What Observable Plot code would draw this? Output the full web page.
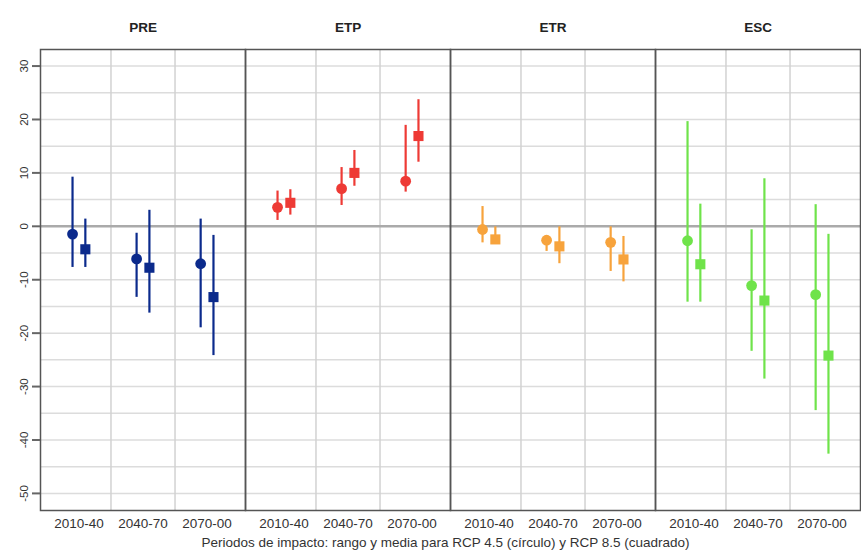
<!DOCTYPE html>
<html>
<head>
<meta charset="utf-8">
<script src="https://cdn.jsdelivr.net/npm/d3@7"></script>
<script src="https://cdn.jsdelivr.net/npm/@observablehq/plot@0.6"></script>
<style>
  html, body { margin: 0; padding: 0; background: #fff; overflow: hidden; }
  #chart svg { display: block; }
  #caption { font-family: "Liberation Sans", Arial, sans-serif; font-size: 13.5px; line-height: 16px; color: #333; text-align: center; padding-left: 30px; white-space: nowrap; }
</style>
</head>
<body>
<div id="chart"></div>
<div id="caption">Periodos de impacto: rango y media para RCP 4.5 (círculo) y RCP 8.5 (cuadrado)</div>
<script>
const panels = ["PRE", "ETP", "ETR", "ESC"];
const periods = ["2010-40", "2040-70", "2070-00"];
const panelColors = ["#0B2A8C", "#EE3A35", "#F7A33C", "#6FE34A"];
const yTicks = [-50, -40, -30, -20, -10, 0, 10, 20, 30];
const gridVals = [-50, -45, -40, -35, -30, -25, -20, -15, -10, -5, 5, 10, 15, 20, 25, 30];

// order: PRE(3 periods), ETP(3), ETR(3), ESC(3)
const mean45 = [-1.45, -6.1, -7.0, 3.55, 7.05, 8.45, -0.6, -2.6, -3.0, -2.7, -11.1, -12.8];
const low45  = [-7.7, -13.3, -19.0, 1.1, 3.9, 6.4, -3.1, -4.7, -8.45, -14.2, -23.4, -34.5];
const high45 = [9.2, -1.3, 1.35, 6.6, 11.0, 18.9, 3.7, -1.8, -0.1, 19.6, -0.65, 4.05];
const mean85 = [-4.3, -7.75, -13.25, 4.4, 10.0, 16.9, -2.45, -3.75, -6.2, -7.1, -13.9, -24.2];
const low85  = [-7.7, -16.25, -24.2, 2.1, 7.5, 12.0, -3.25, -7.0, -10.4, -14.2, -28.6, -42.65];
const high85 = [1.35, 3.0, -1.7, 6.85, 14.2, 23.7, -0.1, -0.1, -1.9, 4.15, 8.9, -1.5];

const rows = [];
panels.forEach((p, pi) => {
  periods.forEach((per, k) => {
    const i = pi * 3 + k;
    rows.push({panel: p, color: panelColors[pi], x: k + 1 - 0.1, series: "RCP 4.5", low: low45[i], mean: mean45[i], high: high45[i]});
    rows.push({panel: p, color: panelColors[pi], x: k + 1 + 0.1, series: "RCP 8.5", low: low85[i], mean: mean85[i], high: high85[i]});
  });
});
const r45 = rows.filter(d => d.series === "RCP 4.5");
const r85 = rows.filter(d => d.series === "RCP 8.5");

const chart = Plot.plot({
  width: 861,
  height: 535,
  marginLeft: 39,
  marginRight: 0,
  marginTop: 49,
  marginBottom: 25,
  style: {fontFamily: "'Liberation Sans', Arial, sans-serif", color: "#333", background: "#fff"},
  fx: {domain: panels, padding: 0, axis: null},
  x: {domain: [0.4, 3.6], axis: null},
  y: {domain: [-53.2, 33.1], axis: null},
  color: {type: "identity"},
  marks: [
    Plot.ruleY(gridVals, {stroke: "#dcdcdc", strokeWidth: 1.5}),
    Plot.ruleX([1.5, 2.5], {stroke: "#d2d2d2", strokeWidth: 1.5}),
    Plot.ruleY([0], {stroke: "#aaaaaa", strokeWidth: 2.5}),
    Plot.frame({stroke: "#555", strokeWidth: 1.5}),
    Plot.ruleX(rows, {fx: "panel", x: "x", y1: "low", y2: "high", stroke: "color", strokeWidth: 2.2}),
    Plot.dot(r45, {fx: "panel", x: "x", y: "mean", symbol: "circle", r: 5.4, fill: "color", stroke: "none"}),
    Plot.dot(r85, {fx: "panel", x: "x", y: "mean", symbol: "square", r: 5.7, fill: "color", stroke: "none"}),
    Plot.text(panels, {fx: d => d, text: d => d, frameAnchor: "top", dy: -27, fontWeight: "bold", fontSize: 13.5, fill: "#222"}),
    Plot.axisX({ticks: [1, 2, 3], tickFormat: d => periods[d - 1], tickSize: 0, tickPadding: 8, fontSize: 13.5, label: null, fill: "#333"}),
    Plot.axisY({ticks: yTicks, tickFormat: d => String(d), tickSize: 8, tickRotate: -90, tickPadding: 5, fontSize: 11.5, label: null, stroke: "#666", strokeWidth: 2, fill: "#333"})
  ]
});
document.getElementById("chart").appendChild(chart);
</script>
</body>
</html>
